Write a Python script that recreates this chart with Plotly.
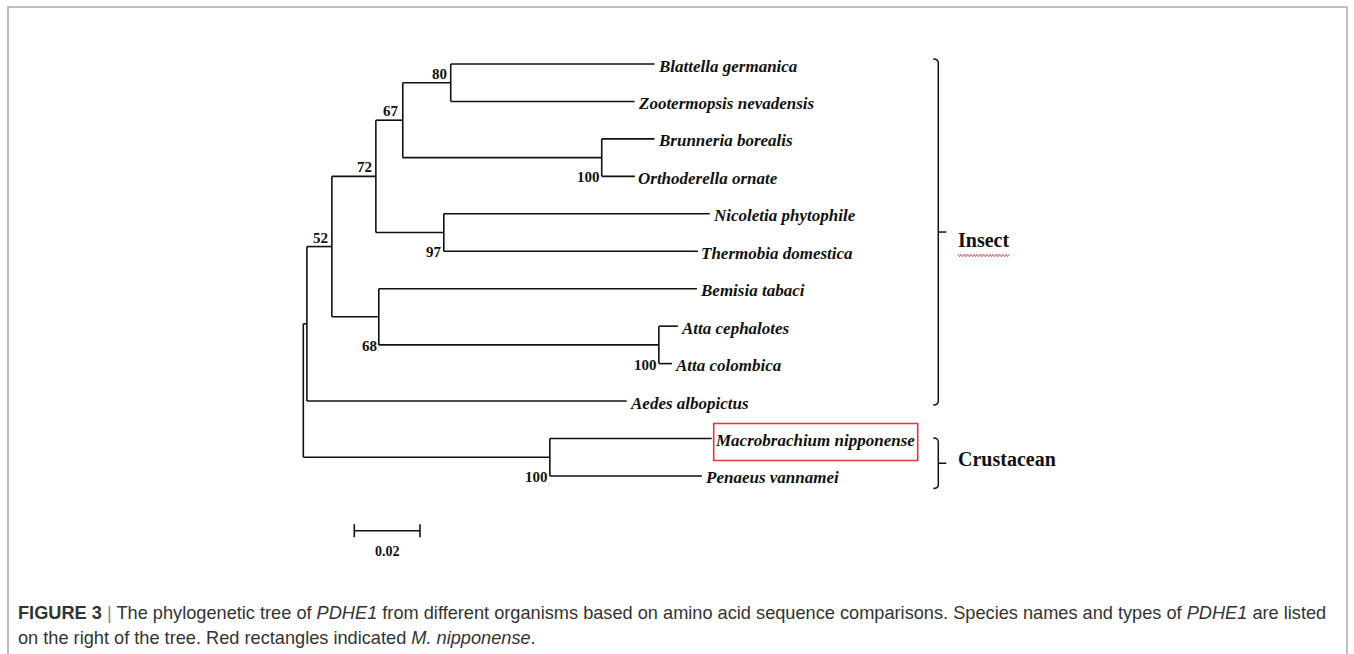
import plotly.graph_objects as go

W, H = 1354, 654

# ---- tree data -------------------------------------------------------------
taxa = ["Blattella germanica", "Zootermopsis nevadensis", "Brunneria borealis",
        "Orthoderella ornate", "Nicoletia phytophile", "Thermobia domestica",
        "Bemisia tabaci", "Atta cephalotes", "Atta colombica", "Aedes albopictus",
        "Macrobrachium nipponense", "Penaeus vannamei"]
taxon_parent = ["n80", "n80", "nBO", "nBO", "nNT", "nNT", "n68", "nAT", "nAT",
                "ins", "crus", "crus"]
taxon_length = [0.0621, 0.0560, 0.0161, 0.0101, 0.0810, 0.0774, 0.0969, 0.0058,
                0.0040, 0.0974, 0.0493, 0.0463]

node_ids = ["root", "ins", "n52", "n72", "n67", "n80", "nBO", "nNT", "n68", "nAT", "crus"]
node_parent = [None, "root", "ins", "n52", "n72", "n67", "n67", "n72", "n52", "n68", "root"]
node_length = [0.0, 0.0011, 0.0076, 0.0134, 0.0082, 0.0146, 0.0606, 0.0207, 0.0143,
               0.0853, 0.0751]
node_support = [None, None, 52, 72, 67, 80, 100, 97, 68, 100, 100]

groups = ["Insect", "Crustacean"]
group_first = [0, 10]
group_last = [9, 11]

highlighted = ["Macrobrachium nipponense"]
scale_length = 0.02

# ---- layout geometry (pixels) -------------------------------------------------
ROOT_PX = 303.3          # pixel column of the root
PX_PER_UNIT = 3283.0     # horizontal pixels per substitution/site
LEAF0_PX = 64.0          # pixel row of the first tip
LEAF_STEP = 37.45        # pixel spacing of tips


def dx(p):
    return (p - ROOT_PX) / PX_PER_UNIT


def dy(p):
    return (p - LEAF0_PX) / LEAF_STEP


def pdx(n):
    return n / PX_PER_UNIT


def pdy(n):
    return n / LEAF_STEP


# ---- tree coordinates ------------------------------------------------------------
depth = {}
for nid, par, ln in zip(node_ids, node_parent, node_length):
    depth[nid] = 0.0 if par is None else depth[par] + ln

leaf_x = [depth[p] + l for p, l in zip(taxon_parent, taxon_length)]
leaf_y = list(range(len(taxa)))

children = {nid: [] for nid in node_ids}
for nid, par in zip(node_ids, node_parent):
    if par is not None:
        children[par].append(("node", nid))
for i, par in enumerate(taxon_parent):
    children[par].append(("leaf", i))

node_y = {}
span = {}


def place(nid):
    ys = []
    for kind, c in children[nid]:
        ys.append(leaf_y[c] if kind == "leaf" else place(c))
    span[nid] = (min(ys), max(ys))
    node_y[nid] = (min(ys) + max(ys)) / 2
    return node_y[nid]


place("root")

xs, ys = [], []
for nid, par in zip(node_ids, node_parent):
    lo, hi = span[nid]
    xs += [depth[nid], depth[nid], None]
    ys += [lo, hi, None]
    if par is not None:
        xs += [depth[par], depth[nid], None]
        ys += [node_y[nid], node_y[nid], None]
for i, par in enumerate(taxon_parent):
    xs += [depth[par], leaf_x[i], None]
    ys += [leaf_y[i], leaf_y[i], None]

fig = go.Figure()
fig.add_trace(go.Scatter(x=xs, y=ys, mode="lines",
                         line=dict(color="#111111", width=1.6),
                         hoverinfo="skip", showlegend=False))

annotations = []
shapes = []

serif = "Liberation Serif"

# tip labels
for i, name in enumerate(taxa):
    annotations.append(dict(x=leaf_x[i], y=leaf_y[i], xref="x", yref="y",
                            text=name, showarrow=False, xanchor="left", yanchor="middle",
                            xshift=1, yshift=-2,
                            font=dict(family=serif, size=17, color="#111111",
                                      weight="bold", style="italic")))

# bootstrap support values
above = {"n80", "n67", "n72", "n52"}
for nid, sup in zip(node_ids, node_support):
    if sup is None:
        continue
    if nid in above:
        annotations.append(dict(x=depth[nid], y=node_y[nid], xref="x", yref="y",
                                text=str(sup), showarrow=False, xanchor="right",
                                yanchor="bottom", xshift=-2, yshift=-1,
                                font=dict(family=serif, size=15, color="#111111",
                                          weight="bold")))
    else:
        annotations.append(dict(x=depth[nid], y=span[nid][1], xref="x", yref="y",
                                text=str(sup), showarrow=False, xanchor="right",
                                yanchor="middle", xshift=0, yshift=-1,
                                font=dict(family=serif, size=15, color="#111111",
                                          weight="bold")))

# highlight box around a tip label
for name in highlighted:
    i = taxa.index(name)
    shapes.append(dict(type="rect", xref="x", yref="y",
                       x0=leaf_x[i] + pdx(2), x1=leaf_x[i] + pdx(206),
                       y0=leaf_y[i] - pdy(15), y1=leaf_y[i] + pdy(22),
                       line=dict(color="#e8333b", width=1.6)))

# group brackets
BR_X = 938.3
group_pad = [(5, 4), (0.5, 12.5)]
group_label_shift = [-8, 4]
for g, first, last, pad, lsh in zip(groups, group_first, group_last, group_pad, group_label_shift):
    top = first - pdy(pad[0])
    bot = last + pdy(pad[1])
    mid = (top + bot) / 2
    bx = dx(BR_X)
    hook = pdx(5)
    curve = pdy(4)
    path = (f"M {bx - hook},{top} Q {bx},{top} {bx},{top + curve} "
            f"L {bx},{bot - curve} Q {bx},{bot} {bx - hook},{bot}")
    shapes.append(dict(type="path", xref="x", yref="y", path=path,
                       line=dict(color="#111111", width=1.5)))
    shapes.append(dict(type="line", xref="x", yref="y", x0=bx, x1=bx + pdx(8),
                       y0=mid, y1=mid, line=dict(color="#111111", width=1.5)))
    annotations.append(dict(x=dx(956), y=mid, xref="x", yref="y", text=g,
                            showarrow=False, xanchor="left", yanchor="middle",
                            yshift=lsh,
                            font=dict(family=serif, size=20, color="#111111",
                                      weight="bold")))

# spell-check squiggle under the "Insect" label
sq_y = dy(255.5)
pts = []
px = 958.0
k = 0
while px <= 1010.0:
    pts.append(f"{dx(px)},{sq_y + (pdy(1.2) if k % 2 else -pdy(1.2))}")
    px += 1.6
    k += 1
shapes.append(dict(type="path", xref="x", yref="y", path="M " + " L ".join(pts),
                   line=dict(color="#e03a3a", width=0.9)))

# scale bar
sb_x0 = dx(354.3)
sb_y = dy(530.7)
shapes.append(dict(type="line", xref="x", yref="y", x0=sb_x0, x1=sb_x0 + scale_length,
                   y0=sb_y, y1=sb_y, line=dict(color="#111111", width=1.6)))
for xe in (sb_x0, sb_x0 + scale_length):
    shapes.append(dict(type="line", xref="x", yref="y", x0=xe, x1=xe,
                       y0=sb_y - pdy(6.5), y1=sb_y + pdy(6.5),
                       line=dict(color="#111111", width=1.6)))
annotations.append(dict(x=sb_x0 + scale_length / 2, y=sb_y, xref="x", yref="y",
                        text=f"{scale_length:.2f}", showarrow=False,
                        xanchor="center", yanchor="middle", yshift=-21,
                        font=dict(family=serif, size=14, color="#111111", weight="bold")))

# outer frame
shapes.append(dict(type="rect", xref="paper", yref="paper",
                   x0=8 / W, x1=1347 / W, y0=1 - 662 / H, y1=1 - 7 / H,
                   line=dict(color="#aaaaaa", width=1.5)))

# caption
cap_font = dict(family="Liberation Sans", size=18.2, color="#333333")
line1 = ("<b>FIGURE 3</b> <span style='color:#888888'>|</span> The phylogenetic tree of "
         "<i>PDHE1</i> from different organisms based on amino acid sequence comparisons. "
         "Species names and types of <i>PDHE1</i> are listed")
line2 = "on the right of the tree. Red rectangles indicated <i>M. nipponense</i>."
annotations.append(dict(x=16 / W, y=1 - 613 / H, xref="paper", yref="paper", text=line1,
                        showarrow=False, xanchor="left", yanchor="middle", font=cap_font))
annotations.append(dict(x=16 / W, y=1 - 638 / H, xref="paper", yref="paper", text=line2,
                        showarrow=False, xanchor="left", yanchor="middle", font=cap_font))

fig.update_layout(
    width=W, height=H, autosize=False,
    margin=dict(l=0, r=0, t=0, b=0),
    paper_bgcolor="white", plot_bgcolor="white",
    xaxis=dict(range=[dx(0), dx(W)], visible=False, fixedrange=True),
    yaxis=dict(range=[dy(H), dy(0)], visible=False, fixedrange=True),
    annotations=annotations, shapes=shapes,
    showlegend=False,
)

fig.write_html("out.html", config={"displayModeBar": False})
